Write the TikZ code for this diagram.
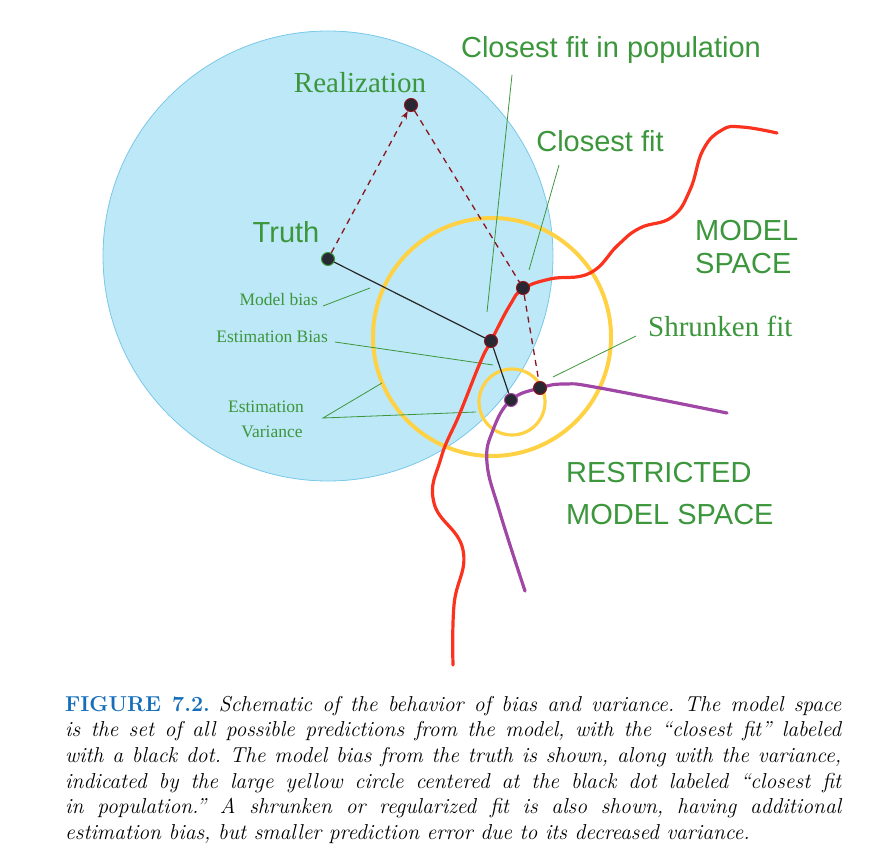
\documentclass[tikz,border=0pt]{standalone}
\usepackage{fontspec}
\newfontfamily\helv{Liberation Sans}
\newfontfamily\tms{Liberation Serif}
\usetikzlibrary{arrows.meta}
\definecolor{skyfill}{RGB}{189,232,247}
\definecolor{skyline}{RGB}{120,200,232}
\definecolor{ringyellow}{RGB}{255,210,70}
\definecolor{labgreen}{RGB}{60,150,60}
\definecolor{curvered}{RGB}{250,50,30}
\definecolor{curvepurple}{RGB}{160,70,165}
\definecolor{dashred}{RGB}{140,20,30}
\definecolor{dotfill}{RGB}{40,40,50}
\definecolor{figblue}{RGB}{20,110,185}
\begin{document}
\begin{tikzpicture}[x=1pt,y=-1pt,
  dotnode/.style={circle,fill=dotfill,minimum size=13pt,inner sep=0pt,line width=1pt},
  biglab/.style={text=labgreen,font=\helv\fontsize{29}{32}\selectfont,inner sep=0pt},
  seriflab/.style={text=labgreen,font=\tms\fontsize{29}{32}\selectfont,inner sep=0pt},
  smalllab/.style={text=labgreen,font=\tms\fontsize{17.5}{20}\selectfont,inner sep=0pt},
  leader/.style={draw=labgreen,line width=0.8pt},
  ring/.style={draw=ringyellow},
  dashconn/.style={draw=dashred,line width=1.3pt,dash pattern=on 6pt off 5pt},
  solidconn/.style={draw=black!85,line width=1.2pt},
  curve/.style={line width=3.2pt,line cap=round}]
\useasboundingbox (0,0) rectangle (873,856);
% blue region
\fill[skyfill,draw=skyline,line width=0.8pt] (328,256) circle[radius=225pt];
% yellow circles
\draw[ring,line width=4pt] (492,337) circle[radius=119pt];
\draw[ring,line width=3.2pt] (512,402) circle[radius=33pt];
% coordinates for leader lines
\coordinate (cpA) at (512,75);   \coordinate (cpB) at (487,312);
\coordinate (cfA) at (559,165);  \coordinate (cfB) at (529,270);
\coordinate (mbA) at (323,306);  \coordinate (mbB) at (370,288);
\coordinate (ebA) at (335,342);  \coordinate (ebB) at (493,365);
\coordinate (evA) at (323,418);  \coordinate (evB) at (382,383); \coordinate (evC) at (476,412);
\coordinate (sfA) at (553,377);  \coordinate (sfB) at (636,336);
\draw[leader] (cpA) -- (cpB);
\draw[leader] (cfA) -- (cfB);
\draw[leader] (mbA) -- (mbB);
\draw[leader] (ebA) -- (ebB);
\draw[leader] (evB) -- (evA) -- (evC);
\draw[leader] (sfA) -- (sfB);
% curves
\draw[curve,curvered] plot[smooth,tension=0.75] coordinates {(453,665) (454,605) (463,550) (434,503) (441,458) (460,413) (480,363) (491,341) (510,305) (523,289) (550,279) (590,273) (618,245) (640,228) (672,217) (690,190) (703,150) (722,130) (742,127) (777,133)};
\draw[curve,curvepurple] plot[smooth,tension=0.7] coordinates {(525,591) (500,513) (487,463) (493,430) (511,400) (540,388) (565,384) (600,388) (727,413)};
% dots
\node[dotnode,draw=labgreen] (truth) at (328,259) {};
\node[dotnode,draw=dashred] (real) at (411,105) {};
\node[dotnode,draw=dashred] (cfit) at (523,288) {};
\node[dotnode,draw=dashred] (popfit) at (491,341) {};
\node[dotnode,draw=dashred] (sfit) at (540,388) {};
\node[dotnode,draw=curvepurple] (spop) at (511,400) {};
% connectors
\draw[dashconn,-{Stealth[length=8pt,width=6pt]}] (truth) -- (real);
\draw[dashconn] (real) -- (cfit);
\draw[dashconn] (cfit) -- (sfit);
\draw[solidconn] (truth) -- (popfit);
\draw[solidconn] (popfit) -- (spop);
% labels
\node[seriflab,anchor=base] (lreal) at (360,93) {Realization};
\node[biglab,anchor=base] (ltruth) at (286,242) {Truth};
\node[biglab,anchor=base] (lcpop) at (611,58) {Closest fit in population};
\node[biglab,anchor=base] (lcfit) at (600,152) {Closest fit};
\node[biglab,anchor=base west] (lms1) at (695,240) {MODEL};
\node[biglab,anchor=base west] (lms2) at (695,273) {SPACE};
\node[biglab,anchor=base west] (lrms1) at (566,482) {RESTRICTED};
\node[biglab,anchor=base west] (lrms2) at (566,524) {MODEL SPACE};
\node[seriflab,anchor=base west] (lsf) at (648,336) {Shrunken fit};
\node[smalllab,anchor=base east] (lmb) at (318,305) {Model bias};
\node[smalllab,anchor=base east] (leb) at (328,342) {Estimation Bias};
\node[smalllab,anchor=base] (lev1) at (266,412) {Estimation};
\node[smalllab,anchor=base] (lev2) at (272,437) {Variance};
% caption
\node[anchor=north west,text width=776pt,inner sep=0pt,align=justify,
  font=\fontsize{21.55}{25.6}\selectfont] (caption) at (65,696)
{\frenchspacing{\bfseries\color{figblue}FIGURE 7.2.} \itshape Schematic of the behavior of bias and variance. The model space\linebreak
is the set of all possible predictions from the model, with the “closest fit” labeled\linebreak
with a black dot. The model bias from the truth is shown, along with the variance,\linebreak
indicated by the large yellow circle centered at the black dot labeled “closest fit\linebreak
in population.” A shrunken or regularized fit is also shown, having additional\linebreak
estimation bias, but smaller prediction error due to its decreased variance.};
\end{tikzpicture}
\end{document}
